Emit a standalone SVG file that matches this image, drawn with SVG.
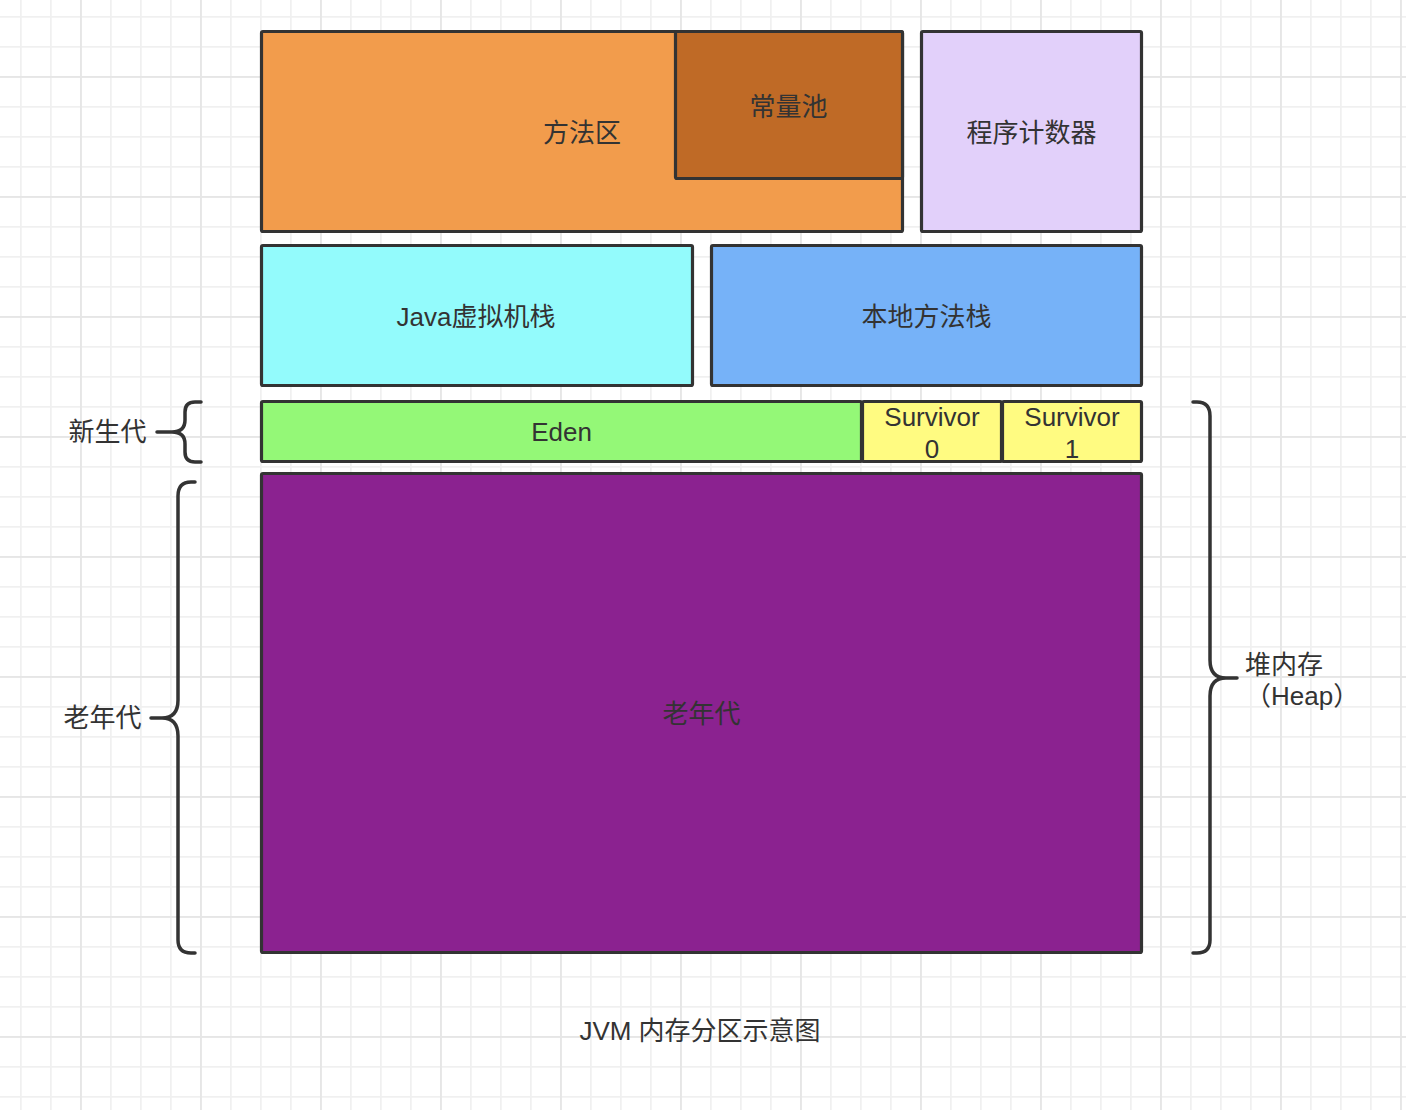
<svg xmlns="http://www.w3.org/2000/svg" width="1406" height="1110" viewBox="0 0 1406 1110">
<style>
  .box { stroke: #333333; stroke-width: 3.2; }
  .t { font-family: "Liberation Sans", "Noto Sans CJK SC", sans-serif; font-size: 26px; fill: #333333; text-anchor: middle; }
  .tl { font-family: "Liberation Sans", "Noto Sans CJK SC", sans-serif; font-size: 26px; fill: #333333; }
  .brace { fill: none; stroke: #333333; stroke-width: 3.5; stroke-linecap: round; stroke-linejoin: round; }
</style>
<defs>
  <pattern id="grid" patternUnits="userSpaceOnUse" x="80" y="76" width="120" height="120">
    <rect x="30" y="0" width="1.7" height="120" fill="#f0f0f0"/>
    <rect x="60" y="0" width="1.7" height="120" fill="#f0f0f0"/>
    <rect x="90" y="0" width="1.7" height="120" fill="#f0f0f0"/>
    <rect x="0" y="30" width="120" height="1.7" fill="#f0f0f0"/>
    <rect x="0" y="60" width="120" height="1.7" fill="#f0f0f0"/>
    <rect x="0" y="90" width="120" height="1.7" fill="#f0f0f0"/>
    <rect x="0" y="0" width="1.9" height="120" fill="#e6e6e6"/>
    <rect x="0" y="0" width="120" height="1.9" fill="#e6e6e6"/>
  </pattern>
</defs>
<rect x="0" y="0" width="1406" height="1110" fill="#ffffff"/>
<rect x="0" y="0" width="1406" height="1110" fill="url(#grid)"/>

<g id="method-area">
  <rect class="box" x="261.5" y="31.5" width="641" height="200" rx="1.5" fill="#F29C4C"/>
  <text class="t" x="582" y="142">方法区</text>
</g>
<g id="constant-pool">
  <rect class="box" x="675.5" y="31.5" width="227" height="147" rx="1.5" fill="#BF6A26"/>
  <text class="t" x="788.5" y="116">常量池</text>
</g>
<g id="pc-register">
  <rect class="box" x="921.5" y="31.5" width="220" height="200" rx="1.5" fill="#E2D0FA"/>
  <text class="t" x="1031.5" y="142">程序计数器</text>
</g>
<g id="java-stack">
  <rect class="box" x="261.5" y="245.5" width="431" height="140" rx="1.5" fill="#93FBFC"/>
  <text class="t" x="476" y="326">Java虚拟机栈</text>
</g>
<g id="native-stack">
  <rect class="box" x="711.5" y="245.5" width="430" height="140" rx="1.5" fill="#76B2F8"/>
  <text class="t" x="926.5" y="326">本地方法栈</text>
</g>
<g id="eden">
  <rect class="box" x="261.5" y="401.5" width="600" height="60" rx="1.5" fill="#94F877"/>
  <text class="t" x="561.5" y="441">Eden</text>
</g>
<g id="survivor0">
  <rect class="box" x="862.5" y="401.5" width="139" height="60" rx="1.5" fill="#FFFB81"/>
  <text class="t" x="932" y="425.5">Survivor</text>
  <text class="t" x="932" y="458">0</text>
</g>
<g id="survivor1">
  <rect class="box" x="1002.5" y="401.5" width="139" height="60" rx="1.5" fill="#FFFB81"/>
  <text class="t" x="1072" y="425.5">Survivor</text>
  <text class="t" x="1072" y="458">1</text>
</g>
<g id="old-gen">
  <rect class="box" x="261.5" y="473.5" width="880" height="479" rx="1.5" fill="#8B2290"/>
  <text class="t" x="701.5" y="723">老年代</text>
</g>

<g id="connectors">
  <path class="brace" d="M 201,402 H 195 Q 185,402 185,412 V 420 Q 185,432 172,432 H 157 M 172,432 Q 185,432 185,444 V 452 Q 185,462 195,462 H 201"/>
  <path class="brace" d="M 195,482 H 191 Q 178,482 178,496 V 700 Q 178,718 162,718 H 151 M 162,718 Q 178,718 178,736 V 940 Q 178,953 191,953 H 195"/>
  <path class="brace" d="M 1193,402 H 1197 Q 1210,402 1210,416 V 660 Q 1210,678 1226,678 H 1237 M 1226,678 Q 1210,678 1210,696 V 940 Q 1210,953 1197,953 H 1193"/>
</g>

<g id="label-young">
  <text class="t" x="107.5" y="441">新生代</text>
</g>
<g id="label-old">
  <text class="t" x="102.5" y="727">老年代</text>
</g>
<g id="label-heap">
  <text class="tl" x="1245" y="674">堆内存</text>
  <text class="tl" x="1245" y="705">（Heap）</text>
</g>
<g id="caption">
  <text class="t" x="700" y="1040">JVM 内存分区示意图</text>
</g>
</svg>
